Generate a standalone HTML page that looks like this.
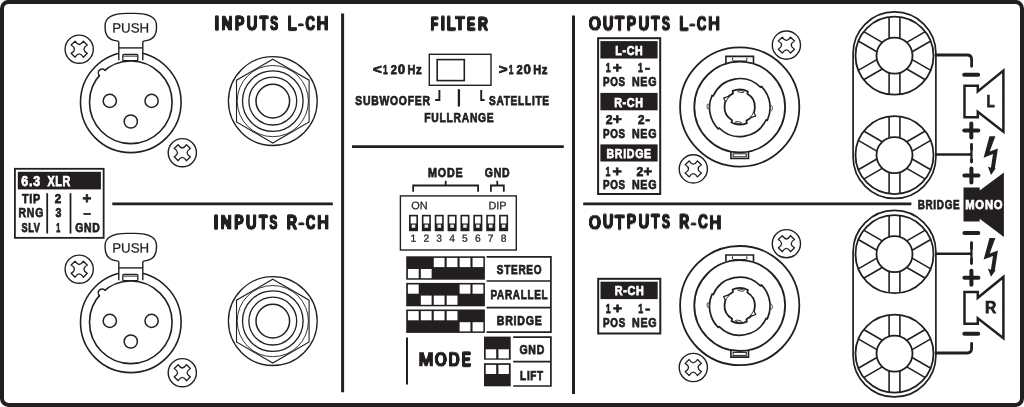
<!DOCTYPE html>
<html lang="en"><head><meta charset="utf-8"><title>Amplifier rear panel</title>
<style>html,body{margin:0;padding:0;background:#fff}svg{display:block;will-change:transform}text{font-family:"Liberation Sans",sans-serif}</style></head><body>
<svg width="1024" height="407" viewBox="0 0 1024 407">
<rect width="1024" height="407" fill="#fff"/>
<rect x="2.00" y="1.90" width="1020.00" height="403.00" fill="none" stroke="#231f20" stroke-width="4" rx="6.5"/>
<line x1="342.60" y1="13.50" x2="342.60" y2="392.20" stroke="#231f20" stroke-width="3.0" stroke-linecap="butt"/>
<line x1="112.30" y1="203.90" x2="332.80" y2="203.90" stroke="#231f20" stroke-width="2.9" stroke-linecap="butt"/>
<g transform="translate(79.20,49.20)">
<circle cx="0.00" cy="0.00" r="14.10" fill="#fff" stroke="#231f20" stroke-width="1.4"/>
<g transform="scale(0.94)">
<path d="M-8.6,-4.4 L-4.4,-8.5 Q0,-1.5 4.4,-8.5 L8.6,-4.4 Q1.5,0 8.6,4.4 L4.4,8.5 Q0,1.5 -4.4,8.5 L-8.6,4.4 Q-1.5,0 -8.6,-4.4 Z" fill="none" stroke="#231f20" stroke-width="1.4" stroke-linejoin="round" stroke-linecap="butt"/>
</g>
</g>
<g transform="translate(182.30,152.70)">
<circle cx="0.00" cy="0.00" r="14.10" fill="#fff" stroke="#231f20" stroke-width="1.4"/>
<g transform="scale(0.94)">
<path d="M-8.6,-4.4 L-4.4,-8.5 Q0,-1.5 4.4,-8.5 L8.6,-4.4 Q1.5,0 8.6,4.4 L4.4,8.5 Q0,1.5 -4.4,8.5 L-8.6,4.4 Q-1.5,0 -8.6,-4.4 Z" fill="none" stroke="#231f20" stroke-width="1.4" stroke-linejoin="round" stroke-linecap="butt"/>
</g>
</g>
<g transform="translate(130.80,102.30)">
<circle cx="0.00" cy="0.00" r="50.30" fill="none" stroke="#231f20" stroke-width="1.6"/>
<path d="M-12,-42 L-12,-60.3 Q-12,-61.2 -14,-61.4 C-21,-62.2 -25.7,-66 -25.7,-74.5 L-25.7,-76.5 C-25.7,-85 -18,-88.9 -4,-88.9 L4,-88.9 C18,-88.9 25.7,-85 25.7,-76.5 L25.7,-74.5 C25.7,-66 21,-62.2 14,-61.4 Q12,-61.2 12,-60.3 L12,-42" fill="#fff" stroke="#231f20" stroke-width="1.4" stroke-linejoin="miter" stroke-linecap="butt"/>
<line x1="-12.00" y1="-54.40" x2="12.00" y2="-54.40" stroke="#231f20" stroke-width="1.4" stroke-linecap="butt"/>
<rect x="-8.00" y="-48.00" width="15.00" height="6.40" fill="none" stroke="#231f20" stroke-width="1.3" rx="1"/>
<line x1="-7.40" y1="-46.20" x2="6.40" y2="-46.20" stroke="#231f20" stroke-width="1.0" stroke-linecap="butt"/>
<circle cx="0.00" cy="0.00" r="41.30" fill="#fff" stroke="#231f20" stroke-width="1.6"/>
<circle cx="-28.65" cy="-29.4" r="3.3" fill="#fff"/>
<path d="M-31.4,-26.7 A3.5,3.5 0 0 1 -25.9,-32.1" fill="none" stroke="#231f20" stroke-width="1.5" stroke-linejoin="miter" stroke-linecap="round"/>
<circle cx="-21.00" cy="-1.40" r="6.60" fill="none" stroke="#231f20" stroke-width="1.5"/>
<circle cx="20.80" cy="-1.40" r="6.60" fill="none" stroke="#231f20" stroke-width="1.5"/>
<circle cx="0.00" cy="19.20" r="6.60" fill="none" stroke="#231f20" stroke-width="1.5"/>
</g>
<g transform="translate(272.80,101.10)">
<circle cx="0.00" cy="0.00" r="44.40" fill="none" stroke="#231f20" stroke-width="1.3"/>
<polygon points="0.00,-41.90 36.29,-20.95 36.29,20.95 0.00,41.90 -36.29,20.95 -36.29,-20.95" fill="none" stroke="#231f20" stroke-width="1.1"/>
<circle cx="0.00" cy="0.00" r="35.60" fill="none" stroke="#231f20" stroke-width="0.9"/>
<circle cx="0.00" cy="0.00" r="30.30" fill="none" stroke="#231f20" stroke-width="1.3"/>
<circle cx="0.00" cy="0.00" r="23.90" fill="none" stroke="#231f20" stroke-width="1.3"/>
<circle cx="0.00" cy="0.00" r="16.80" fill="none" stroke="#231f20" stroke-width="1.5"/>
</g>
<g transform="translate(79.20,269.20)">
<circle cx="0.00" cy="0.00" r="14.10" fill="#fff" stroke="#231f20" stroke-width="1.4"/>
<g transform="scale(0.94)">
<path d="M-8.6,-4.4 L-4.4,-8.5 Q0,-1.5 4.4,-8.5 L8.6,-4.4 Q1.5,0 8.6,4.4 L4.4,8.5 Q0,1.5 -4.4,8.5 L-8.6,4.4 Q-1.5,0 -8.6,-4.4 Z" fill="none" stroke="#231f20" stroke-width="1.4" stroke-linejoin="round" stroke-linecap="butt"/>
</g>
</g>
<g transform="translate(182.30,372.70)">
<circle cx="0.00" cy="0.00" r="14.10" fill="#fff" stroke="#231f20" stroke-width="1.4"/>
<g transform="scale(0.94)">
<path d="M-8.6,-4.4 L-4.4,-8.5 Q0,-1.5 4.4,-8.5 L8.6,-4.4 Q1.5,0 8.6,4.4 L4.4,8.5 Q0,1.5 -4.4,8.5 L-8.6,4.4 Q-1.5,0 -8.6,-4.4 Z" fill="none" stroke="#231f20" stroke-width="1.4" stroke-linejoin="round" stroke-linecap="butt"/>
</g>
</g>
<g transform="translate(130.80,322.30)">
<circle cx="0.00" cy="0.00" r="50.30" fill="none" stroke="#231f20" stroke-width="1.6"/>
<path d="M-12,-42 L-12,-60.3 Q-12,-61.2 -14,-61.4 C-21,-62.2 -25.7,-66 -25.7,-74.5 L-25.7,-76.5 C-25.7,-85 -18,-88.9 -4,-88.9 L4,-88.9 C18,-88.9 25.7,-85 25.7,-76.5 L25.7,-74.5 C25.7,-66 21,-62.2 14,-61.4 Q12,-61.2 12,-60.3 L12,-42" fill="#fff" stroke="#231f20" stroke-width="1.4" stroke-linejoin="miter" stroke-linecap="butt"/>
<line x1="-12.00" y1="-54.40" x2="12.00" y2="-54.40" stroke="#231f20" stroke-width="1.4" stroke-linecap="butt"/>
<rect x="-8.00" y="-48.00" width="15.00" height="6.40" fill="none" stroke="#231f20" stroke-width="1.3" rx="1"/>
<line x1="-7.40" y1="-46.20" x2="6.40" y2="-46.20" stroke="#231f20" stroke-width="1.0" stroke-linecap="butt"/>
<circle cx="0.00" cy="0.00" r="41.30" fill="#fff" stroke="#231f20" stroke-width="1.6"/>
<circle cx="-28.65" cy="-29.4" r="3.3" fill="#fff"/>
<path d="M-31.4,-26.7 A3.5,3.5 0 0 1 -25.9,-32.1" fill="none" stroke="#231f20" stroke-width="1.5" stroke-linejoin="miter" stroke-linecap="round"/>
<circle cx="-21.00" cy="-1.40" r="6.60" fill="none" stroke="#231f20" stroke-width="1.5"/>
<circle cx="20.80" cy="-1.40" r="6.60" fill="none" stroke="#231f20" stroke-width="1.5"/>
<circle cx="0.00" cy="19.20" r="6.60" fill="none" stroke="#231f20" stroke-width="1.5"/>
</g>
<g transform="translate(272.80,321.10)">
<circle cx="0.00" cy="0.00" r="44.40" fill="none" stroke="#231f20" stroke-width="1.3"/>
<polygon points="0.00,-41.90 36.29,-20.95 36.29,20.95 0.00,41.90 -36.29,20.95 -36.29,-20.95" fill="none" stroke="#231f20" stroke-width="1.1"/>
<circle cx="0.00" cy="0.00" r="35.60" fill="none" stroke="#231f20" stroke-width="0.9"/>
<circle cx="0.00" cy="0.00" r="30.30" fill="none" stroke="#231f20" stroke-width="1.3"/>
<circle cx="0.00" cy="0.00" r="23.90" fill="none" stroke="#231f20" stroke-width="1.3"/>
<circle cx="0.00" cy="0.00" r="16.80" fill="none" stroke="#231f20" stroke-width="1.5"/>
</g>
<rect x="14.90" y="168.80" width="88.75" height="69.05" fill="#fff" stroke="#231f20" stroke-width="1.8"/>
<rect x="17.80" y="171.80" width="83.10" height="17.60" fill="#231f20"/>
<line x1="47.20" y1="193.20" x2="47.20" y2="233.50" stroke="#231f20" stroke-width="1.8" stroke-linecap="butt"/>
<line x1="70.50" y1="193.20" x2="70.50" y2="233.50" stroke="#231f20" stroke-width="1.8" stroke-linecap="butt"/>
<rect x="429.30" y="54.30" width="61.70" height="31.00" fill="none" stroke="#231f20" stroke-width="1.4"/>
<rect x="437.20" y="59.60" width="27.10" height="21.00" fill="none" stroke="#231f20" stroke-width="1.6"/>
<path d="M439.4,90.1 L439.4,100.0 L435.2,100.0" fill="none" stroke="#231f20" stroke-width="1.9" stroke-linejoin="miter" stroke-linecap="butt"/>
<path d="M481.2,90.1 L481.2,100.0 L484.6,100.0" fill="none" stroke="#231f20" stroke-width="1.9" stroke-linejoin="miter" stroke-linecap="butt"/>
<line x1="458.90" y1="89.20" x2="458.90" y2="106.50" stroke="#231f20" stroke-width="2.3" stroke-linecap="butt"/>
<line x1="352.00" y1="146.55" x2="563.80" y2="146.55" stroke="#231f20" stroke-width="2.8" stroke-linecap="butt"/>
<line x1="573.50" y1="15.50" x2="573.50" y2="394.00" stroke="#231f20" stroke-width="3.0" stroke-linecap="butt"/>
<path d="M413.2,191.8 L413.2,185.5 L478.1,185.5 L478.1,191.8 M445.7,185.5 L445.7,180.8" fill="none" stroke="#231f20" stroke-width="1.8" stroke-linejoin="miter" stroke-linecap="butt"/>
<path d="M490.9,191.8 L490.9,185.5 L503.8,185.5 L503.8,191.8 M497.3,185.5 L497.3,180.8" fill="none" stroke="#231f20" stroke-width="1.8" stroke-linejoin="miter" stroke-linecap="butt"/>
<rect x="400.40" y="195.90" width="115.90" height="54.10" fill="none" stroke="#231f20" stroke-width="1.4"/>
<rect x="409.80" y="215.60" width="7.40" height="14.80" fill="#fff" stroke="#231f20" stroke-width="1.6"/>
<rect x="409.80" y="223.50" width="7.40" height="6.90" fill="#231f20"/>
<rect x="411.70" y="224.60" width="3.60" height="3.20" fill="#eee"/>
<line x1="410.90" y1="229.30" x2="416.10" y2="229.30" stroke="#231f20" stroke-width="0.6" stroke-linecap="butt"/>
<rect x="422.67" y="215.60" width="7.40" height="14.80" fill="#fff" stroke="#231f20" stroke-width="1.6"/>
<rect x="422.67" y="223.50" width="7.40" height="6.90" fill="#231f20"/>
<rect x="424.57" y="224.60" width="3.60" height="3.20" fill="#eee"/>
<line x1="423.77" y1="229.30" x2="428.97" y2="229.30" stroke="#231f20" stroke-width="0.6" stroke-linecap="butt"/>
<rect x="435.54" y="215.60" width="7.40" height="14.80" fill="#fff" stroke="#231f20" stroke-width="1.6"/>
<rect x="435.54" y="223.50" width="7.40" height="6.90" fill="#231f20"/>
<rect x="437.44" y="224.60" width="3.60" height="3.20" fill="#eee"/>
<line x1="436.64" y1="229.30" x2="441.84" y2="229.30" stroke="#231f20" stroke-width="0.6" stroke-linecap="butt"/>
<rect x="448.41" y="215.60" width="7.40" height="14.80" fill="#fff" stroke="#231f20" stroke-width="1.6"/>
<rect x="448.41" y="223.50" width="7.40" height="6.90" fill="#231f20"/>
<rect x="450.31" y="224.60" width="3.60" height="3.20" fill="#eee"/>
<line x1="449.51" y1="229.30" x2="454.71" y2="229.30" stroke="#231f20" stroke-width="0.6" stroke-linecap="butt"/>
<rect x="461.28" y="215.60" width="7.40" height="14.80" fill="#fff" stroke="#231f20" stroke-width="1.6"/>
<rect x="461.28" y="223.50" width="7.40" height="6.90" fill="#231f20"/>
<rect x="463.18" y="224.60" width="3.60" height="3.20" fill="#eee"/>
<line x1="462.38" y1="229.30" x2="467.58" y2="229.30" stroke="#231f20" stroke-width="0.6" stroke-linecap="butt"/>
<rect x="474.15" y="215.60" width="7.40" height="14.80" fill="#fff" stroke="#231f20" stroke-width="1.6"/>
<rect x="474.15" y="223.50" width="7.40" height="6.90" fill="#231f20"/>
<rect x="476.05" y="224.60" width="3.60" height="3.20" fill="#eee"/>
<line x1="475.25" y1="229.30" x2="480.45" y2="229.30" stroke="#231f20" stroke-width="0.6" stroke-linecap="butt"/>
<rect x="487.02" y="215.60" width="7.40" height="14.80" fill="#fff" stroke="#231f20" stroke-width="1.6"/>
<rect x="487.02" y="223.50" width="7.40" height="6.90" fill="#231f20"/>
<rect x="488.92" y="224.60" width="3.60" height="3.20" fill="#eee"/>
<line x1="488.12" y1="229.30" x2="493.32" y2="229.30" stroke="#231f20" stroke-width="0.6" stroke-linecap="butt"/>
<rect x="499.89" y="215.60" width="7.40" height="14.80" fill="#fff" stroke="#231f20" stroke-width="1.6"/>
<rect x="499.89" y="223.50" width="7.40" height="6.90" fill="#231f20"/>
<rect x="501.79" y="224.60" width="3.60" height="3.20" fill="#eee"/>
<line x1="500.99" y1="229.30" x2="506.19" y2="229.30" stroke="#231f20" stroke-width="0.6" stroke-linecap="butt"/>
<rect x="406.20" y="256.30" width="78.70" height="23.40" fill="#231f20"/>
<rect x="407.90" y="269.00" width="10.80" height="9.20" fill="#fff"/>
<rect x="420.83" y="269.00" width="10.80" height="9.20" fill="#fff"/>
<rect x="433.76" y="257.90" width="10.80" height="9.20" fill="#fff"/>
<rect x="446.69" y="257.90" width="10.80" height="9.20" fill="#fff"/>
<rect x="459.62" y="257.90" width="10.80" height="9.20" fill="#fff"/>
<rect x="472.55" y="257.90" width="10.80" height="9.20" fill="#fff"/>
<rect x="406.20" y="282.90" width="78.70" height="23.40" fill="#231f20"/>
<rect x="407.90" y="284.50" width="10.80" height="9.20" fill="#fff"/>
<rect x="420.83" y="295.60" width="10.80" height="9.20" fill="#fff"/>
<rect x="433.76" y="295.60" width="10.80" height="9.20" fill="#fff"/>
<rect x="446.69" y="295.60" width="10.80" height="9.20" fill="#fff"/>
<rect x="459.62" y="284.50" width="10.80" height="9.20" fill="#fff"/>
<rect x="472.55" y="284.50" width="10.80" height="9.20" fill="#fff"/>
<rect x="406.20" y="309.50" width="78.70" height="23.40" fill="#231f20"/>
<rect x="407.90" y="311.10" width="10.80" height="9.20" fill="#fff"/>
<rect x="420.83" y="311.10" width="10.80" height="9.20" fill="#fff"/>
<rect x="433.76" y="311.10" width="10.80" height="9.20" fill="#fff"/>
<rect x="446.69" y="311.10" width="10.80" height="9.20" fill="#fff"/>
<rect x="459.62" y="322.20" width="10.80" height="9.20" fill="#fff"/>
<rect x="472.55" y="322.20" width="10.80" height="9.20" fill="#fff"/>
<path d="M486.6,256.9 L550.9,256.9 L550.9,332.1 L486.6,332.1 M486.6,281.0 L550.9,281.0 M486.6,307.7 L550.9,307.7" fill="none" stroke="#231f20" stroke-width="1.7" stroke-linejoin="miter" stroke-linecap="butt"/>
<line x1="407.00" y1="337.50" x2="407.00" y2="384.50" stroke="#231f20" stroke-width="2.0" stroke-linecap="butt"/>
<rect x="484.00" y="336.60" width="26.70" height="23.10" fill="#231f20"/>
<rect x="485.70" y="349.30" width="10.50" height="9.10" fill="#fff"/>
<rect x="498.40" y="349.30" width="10.50" height="9.10" fill="#fff"/>
<rect x="484.00" y="363.20" width="26.70" height="23.10" fill="#231f20"/>
<rect x="485.70" y="364.90" width="10.50" height="9.10" fill="#fff"/>
<rect x="498.40" y="364.90" width="10.50" height="9.10" fill="#fff"/>
<path d="M513.2,337.2 L550.9,337.2 L550.9,386.0 L513.2,386.0 M513.2,361.7 L550.9,361.7" fill="none" stroke="#231f20" stroke-width="1.7" stroke-linejoin="miter" stroke-linecap="butt"/>
<line x1="583.20" y1="203.90" x2="911.40" y2="203.90" stroke="#231f20" stroke-width="2.9" stroke-linecap="butt"/>
<rect x="598.10" y="38.20" width="62.10" height="155.80" fill="#fff" stroke="#231f20" stroke-width="2.0"/>
<rect x="600.40" y="41.10" width="57.20" height="17.40" fill="#231f20"/>
<rect x="600.40" y="92.90" width="57.20" height="17.40" fill="#231f20"/>
<rect x="600.40" y="144.40" width="57.20" height="17.10" fill="#231f20"/>
<rect x="598.20" y="278.80" width="62.10" height="54.70" fill="#fff" stroke="#231f20" stroke-width="2.0"/>
<rect x="600.50" y="281.70" width="57.20" height="17.40" fill="#231f20"/>
<g transform="translate(786.40,45.10)">
<circle cx="0.00" cy="0.00" r="14.10" fill="#fff" stroke="#231f20" stroke-width="1.4"/>
<g transform="scale(0.94)">
<path d="M-8.6,-4.4 L-4.4,-8.5 Q0,-1.5 4.4,-8.5 L8.6,-4.4 Q1.5,0 8.6,4.4 L4.4,8.5 Q0,1.5 -4.4,8.5 L-8.6,4.4 Q-1.5,0 -8.6,-4.4 Z" fill="none" stroke="#231f20" stroke-width="1.4" stroke-linejoin="round" stroke-linecap="butt"/>
</g>
</g>
<g transform="translate(693.30,168.90)">
<circle cx="0.00" cy="0.00" r="14.10" fill="#fff" stroke="#231f20" stroke-width="1.4"/>
<g transform="scale(0.94)">
<path d="M-8.6,-4.4 L-4.4,-8.5 Q0,-1.5 4.4,-8.5 L8.6,-4.4 Q1.5,0 8.6,4.4 L4.4,8.5 Q0,1.5 -4.4,8.5 L-8.6,4.4 Q-1.5,0 -8.6,-4.4 Z" fill="none" stroke="#231f20" stroke-width="1.4" stroke-linejoin="round" stroke-linecap="butt"/>
</g>
</g>
<g transform="translate(739.70,107.00)">
<circle cx="0.00" cy="0.00" r="59.60" fill="none" stroke="#231f20" stroke-width="1.8"/>
<path d="M-13.8,-44 L-13.8,-50.6 L13.8,-50.6 L13.8,-44" fill="#fff" stroke="#231f20" stroke-width="1.6" stroke-linejoin="miter" stroke-linecap="butt"/>
<path d="M-7,-49.3 Q-8,-47.5 -6.5,-46.0 L6.5,-46.0 Q8,-47.5 7,-49.3" fill="none" stroke="#231f20" stroke-width="1.0" stroke-linejoin="miter" stroke-linecap="butt"/>
<path d="M-8.8,44.5 L-8.8,51.5 L8.8,51.5 L8.8,44.5" fill="#fff" stroke="#231f20" stroke-width="1.6" stroke-linejoin="miter" stroke-linecap="butt"/>
<rect x="-6.60" y="46.80" width="13.20" height="3.00" fill="none" stroke="#231f20" stroke-width="1.0"/>
<circle cx="0.00" cy="0.00" r="45.40" fill="#fff" stroke="#231f20" stroke-width="1.8"/>
<g transform="translate(0.1,0.6)">
<path d="M-26.57,-11.61 A29.0,29.0 0 0 1 20.65,-20.36 L21.57,-21.28 A30.3,30.3 0 0 1 27.51,12.71 L26.33,12.16 A29.0,29.0 0 0 1 -20.61,20.40 L-21.54,21.31 A30.3,30.3 0 0 1 -27.77,-12.13 Z" fill="none" stroke="#231f20" stroke-width="1.7" stroke-linejoin="round" stroke-linecap="butt"/>
</g>
<ellipse cx="31.6" cy="1.2" rx="1.0" ry="2.6" fill="#fff" stroke="#231f20" stroke-width="0.8"/>
<ellipse cx="-31.6" cy="-0.6" rx="1.0" ry="2.6" fill="#fff" stroke="#231f20" stroke-width="0.8"/>
<path d="M-7.60,13.16 A15.2,15.2 0 0 1 -6.66,-13.66 L-7.16,-16.08 A17.6,17.6 0 0 1 8.26,-15.54 L7.60,-13.16 A15.2,15.2 0 0 1 6.66,13.66 L7.16,16.08 A17.6,17.6 0 0 1 -8.26,15.54 Z" fill="none" stroke="#231f20" stroke-width="1.8" stroke-linejoin="round" stroke-linecap="butt"/>
<path d="M-14.19,-5.45 L-16.09,-8.92 L-11.15,-10.77" fill="#fff" stroke="#231f20" stroke-width="1.2" stroke-linejoin="round" stroke-linecap="butt"/>
<path d="M14.19,5.45 L16.09,8.92 L11.15,10.77" fill="#fff" stroke="#231f20" stroke-width="1.2" stroke-linejoin="round" stroke-linecap="butt"/>
<ellipse cx="1.2" cy="-15.4" rx="3.4" ry="0.9" fill="none" stroke="#231f20" stroke-width="0.8" transform="rotate(8 1.2 -15.4)"/>
<ellipse cx="-1.2" cy="15.6" rx="3.4" ry="0.9" fill="none" stroke="#231f20" stroke-width="0.8" transform="rotate(8 -1.2 15.6)"/>
</g>
<g transform="translate(786.40,243.70)">
<circle cx="0.00" cy="0.00" r="14.10" fill="#fff" stroke="#231f20" stroke-width="1.4"/>
<g transform="scale(0.94)">
<path d="M-8.6,-4.4 L-4.4,-8.5 Q0,-1.5 4.4,-8.5 L8.6,-4.4 Q1.5,0 8.6,4.4 L4.4,8.5 Q0,1.5 -4.4,8.5 L-8.6,4.4 Q-1.5,0 -8.6,-4.4 Z" fill="none" stroke="#231f20" stroke-width="1.4" stroke-linejoin="round" stroke-linecap="butt"/>
</g>
</g>
<g transform="translate(693.30,367.50)">
<circle cx="0.00" cy="0.00" r="14.10" fill="#fff" stroke="#231f20" stroke-width="1.4"/>
<g transform="scale(0.94)">
<path d="M-8.6,-4.4 L-4.4,-8.5 Q0,-1.5 4.4,-8.5 L8.6,-4.4 Q1.5,0 8.6,4.4 L4.4,8.5 Q0,1.5 -4.4,8.5 L-8.6,4.4 Q-1.5,0 -8.6,-4.4 Z" fill="none" stroke="#231f20" stroke-width="1.4" stroke-linejoin="round" stroke-linecap="butt"/>
</g>
</g>
<g transform="translate(739.70,305.60)">
<circle cx="0.00" cy="0.00" r="59.60" fill="none" stroke="#231f20" stroke-width="1.8"/>
<path d="M-13.8,-44 L-13.8,-50.6 L13.8,-50.6 L13.8,-44" fill="#fff" stroke="#231f20" stroke-width="1.6" stroke-linejoin="miter" stroke-linecap="butt"/>
<path d="M-7,-49.3 Q-8,-47.5 -6.5,-46.0 L6.5,-46.0 Q8,-47.5 7,-49.3" fill="none" stroke="#231f20" stroke-width="1.0" stroke-linejoin="miter" stroke-linecap="butt"/>
<path d="M-8.8,44.5 L-8.8,51.5 L8.8,51.5 L8.8,44.5" fill="#fff" stroke="#231f20" stroke-width="1.6" stroke-linejoin="miter" stroke-linecap="butt"/>
<rect x="-6.60" y="46.80" width="13.20" height="3.00" fill="none" stroke="#231f20" stroke-width="1.0"/>
<circle cx="0.00" cy="0.00" r="45.40" fill="#fff" stroke="#231f20" stroke-width="1.8"/>
<g transform="translate(0.1,0.6)">
<path d="M-26.57,-11.61 A29.0,29.0 0 0 1 20.65,-20.36 L21.57,-21.28 A30.3,30.3 0 0 1 27.51,12.71 L26.33,12.16 A29.0,29.0 0 0 1 -20.61,20.40 L-21.54,21.31 A30.3,30.3 0 0 1 -27.77,-12.13 Z" fill="none" stroke="#231f20" stroke-width="1.7" stroke-linejoin="round" stroke-linecap="butt"/>
</g>
<ellipse cx="31.6" cy="1.2" rx="1.0" ry="2.6" fill="#fff" stroke="#231f20" stroke-width="0.8"/>
<ellipse cx="-31.6" cy="-0.6" rx="1.0" ry="2.6" fill="#fff" stroke="#231f20" stroke-width="0.8"/>
<path d="M-7.60,13.16 A15.2,15.2 0 0 1 -6.66,-13.66 L-7.16,-16.08 A17.6,17.6 0 0 1 8.26,-15.54 L7.60,-13.16 A15.2,15.2 0 0 1 6.66,13.66 L7.16,16.08 A17.6,17.6 0 0 1 -8.26,15.54 Z" fill="none" stroke="#231f20" stroke-width="1.8" stroke-linejoin="round" stroke-linecap="butt"/>
<path d="M-14.19,-5.45 L-16.09,-8.92 L-11.15,-10.77" fill="#fff" stroke="#231f20" stroke-width="1.2" stroke-linejoin="round" stroke-linecap="butt"/>
<path d="M14.19,5.45 L16.09,8.92 L11.15,10.77" fill="#fff" stroke="#231f20" stroke-width="1.2" stroke-linejoin="round" stroke-linecap="butt"/>
<ellipse cx="1.2" cy="-15.4" rx="3.4" ry="0.9" fill="none" stroke="#231f20" stroke-width="0.8" transform="rotate(8 1.2 -15.4)"/>
<ellipse cx="-1.2" cy="15.6" rx="3.4" ry="0.9" fill="none" stroke="#231f20" stroke-width="0.8" transform="rotate(8 -1.2 15.6)"/>
</g>
<g transform="translate(894.50,11.80)">
<rect x="-41.40" y="0.10" width="82.80" height="186.50" fill="none" stroke="#231f20" stroke-width="1.7" rx="41.4"/>
<circle cx="0.00" cy="43.90" r="39.00" fill="#fff" stroke="#231f20" stroke-width="1.8"/>
<circle cx="0.00" cy="43.90" r="18.00" fill="none" stroke="#231f20" stroke-width="1.8"/>
<g transform="translate(0,43.9) rotate(0)">
<line x1="-5.40" y1="-17.28" x2="-5.40" y2="-38.73" stroke="#231f20" stroke-width="1.6" stroke-linecap="butt"/>
<line x1="5.40" y1="-17.28" x2="5.40" y2="-38.73" stroke="#231f20" stroke-width="1.6" stroke-linecap="butt"/>
</g>
<g transform="translate(0,43.9) rotate(60)">
<line x1="-5.40" y1="-17.28" x2="-5.40" y2="-38.73" stroke="#231f20" stroke-width="1.6" stroke-linecap="butt"/>
<line x1="5.40" y1="-17.28" x2="5.40" y2="-38.73" stroke="#231f20" stroke-width="1.6" stroke-linecap="butt"/>
</g>
<g transform="translate(0,43.9) rotate(120)">
<line x1="-5.40" y1="-17.28" x2="-5.40" y2="-38.73" stroke="#231f20" stroke-width="1.6" stroke-linecap="butt"/>
<line x1="5.40" y1="-17.28" x2="5.40" y2="-38.73" stroke="#231f20" stroke-width="1.6" stroke-linecap="butt"/>
</g>
<g transform="translate(0,43.9) rotate(180)">
<line x1="-5.40" y1="-17.28" x2="-5.40" y2="-38.73" stroke="#231f20" stroke-width="1.6" stroke-linecap="butt"/>
<line x1="5.40" y1="-17.28" x2="5.40" y2="-38.73" stroke="#231f20" stroke-width="1.6" stroke-linecap="butt"/>
</g>
<g transform="translate(0,43.9) rotate(240)">
<line x1="-5.40" y1="-17.28" x2="-5.40" y2="-38.73" stroke="#231f20" stroke-width="1.6" stroke-linecap="butt"/>
<line x1="5.40" y1="-17.28" x2="5.40" y2="-38.73" stroke="#231f20" stroke-width="1.6" stroke-linecap="butt"/>
</g>
<g transform="translate(0,43.9) rotate(300)">
<line x1="-5.40" y1="-17.28" x2="-5.40" y2="-38.73" stroke="#231f20" stroke-width="1.6" stroke-linecap="butt"/>
<line x1="5.40" y1="-17.28" x2="5.40" y2="-38.73" stroke="#231f20" stroke-width="1.6" stroke-linecap="butt"/>
</g>
<circle cx="0.00" cy="143.30" r="39.00" fill="#fff" stroke="#231f20" stroke-width="1.8"/>
<circle cx="0.00" cy="143.30" r="18.00" fill="none" stroke="#231f20" stroke-width="1.8"/>
<g transform="translate(0,143.3) rotate(0)">
<line x1="-5.40" y1="-17.28" x2="-5.40" y2="-38.73" stroke="#231f20" stroke-width="1.6" stroke-linecap="butt"/>
<line x1="5.40" y1="-17.28" x2="5.40" y2="-38.73" stroke="#231f20" stroke-width="1.6" stroke-linecap="butt"/>
</g>
<g transform="translate(0,143.3) rotate(60)">
<line x1="-5.40" y1="-17.28" x2="-5.40" y2="-38.73" stroke="#231f20" stroke-width="1.6" stroke-linecap="butt"/>
<line x1="5.40" y1="-17.28" x2="5.40" y2="-38.73" stroke="#231f20" stroke-width="1.6" stroke-linecap="butt"/>
</g>
<g transform="translate(0,143.3) rotate(120)">
<line x1="-5.40" y1="-17.28" x2="-5.40" y2="-38.73" stroke="#231f20" stroke-width="1.6" stroke-linecap="butt"/>
<line x1="5.40" y1="-17.28" x2="5.40" y2="-38.73" stroke="#231f20" stroke-width="1.6" stroke-linecap="butt"/>
</g>
<g transform="translate(0,143.3) rotate(180)">
<line x1="-5.40" y1="-17.28" x2="-5.40" y2="-38.73" stroke="#231f20" stroke-width="1.6" stroke-linecap="butt"/>
<line x1="5.40" y1="-17.28" x2="5.40" y2="-38.73" stroke="#231f20" stroke-width="1.6" stroke-linecap="butt"/>
</g>
<g transform="translate(0,143.3) rotate(240)">
<line x1="-5.40" y1="-17.28" x2="-5.40" y2="-38.73" stroke="#231f20" stroke-width="1.6" stroke-linecap="butt"/>
<line x1="5.40" y1="-17.28" x2="5.40" y2="-38.73" stroke="#231f20" stroke-width="1.6" stroke-linecap="butt"/>
</g>
<g transform="translate(0,143.3) rotate(300)">
<line x1="-5.40" y1="-17.28" x2="-5.40" y2="-38.73" stroke="#231f20" stroke-width="1.6" stroke-linecap="butt"/>
<line x1="5.40" y1="-17.28" x2="5.40" y2="-38.73" stroke="#231f20" stroke-width="1.6" stroke-linecap="butt"/>
</g>
</g>
<g transform="translate(894.50,210.30)">
<rect x="-41.40" y="0.10" width="82.80" height="186.50" fill="none" stroke="#231f20" stroke-width="1.7" rx="41.4"/>
<circle cx="0.00" cy="43.90" r="39.00" fill="#fff" stroke="#231f20" stroke-width="1.8"/>
<circle cx="0.00" cy="43.90" r="18.00" fill="none" stroke="#231f20" stroke-width="1.8"/>
<g transform="translate(0,43.9) rotate(0)">
<line x1="-5.40" y1="-17.28" x2="-5.40" y2="-38.73" stroke="#231f20" stroke-width="1.6" stroke-linecap="butt"/>
<line x1="5.40" y1="-17.28" x2="5.40" y2="-38.73" stroke="#231f20" stroke-width="1.6" stroke-linecap="butt"/>
</g>
<g transform="translate(0,43.9) rotate(60)">
<line x1="-5.40" y1="-17.28" x2="-5.40" y2="-38.73" stroke="#231f20" stroke-width="1.6" stroke-linecap="butt"/>
<line x1="5.40" y1="-17.28" x2="5.40" y2="-38.73" stroke="#231f20" stroke-width="1.6" stroke-linecap="butt"/>
</g>
<g transform="translate(0,43.9) rotate(120)">
<line x1="-5.40" y1="-17.28" x2="-5.40" y2="-38.73" stroke="#231f20" stroke-width="1.6" stroke-linecap="butt"/>
<line x1="5.40" y1="-17.28" x2="5.40" y2="-38.73" stroke="#231f20" stroke-width="1.6" stroke-linecap="butt"/>
</g>
<g transform="translate(0,43.9) rotate(180)">
<line x1="-5.40" y1="-17.28" x2="-5.40" y2="-38.73" stroke="#231f20" stroke-width="1.6" stroke-linecap="butt"/>
<line x1="5.40" y1="-17.28" x2="5.40" y2="-38.73" stroke="#231f20" stroke-width="1.6" stroke-linecap="butt"/>
</g>
<g transform="translate(0,43.9) rotate(240)">
<line x1="-5.40" y1="-17.28" x2="-5.40" y2="-38.73" stroke="#231f20" stroke-width="1.6" stroke-linecap="butt"/>
<line x1="5.40" y1="-17.28" x2="5.40" y2="-38.73" stroke="#231f20" stroke-width="1.6" stroke-linecap="butt"/>
</g>
<g transform="translate(0,43.9) rotate(300)">
<line x1="-5.40" y1="-17.28" x2="-5.40" y2="-38.73" stroke="#231f20" stroke-width="1.6" stroke-linecap="butt"/>
<line x1="5.40" y1="-17.28" x2="5.40" y2="-38.73" stroke="#231f20" stroke-width="1.6" stroke-linecap="butt"/>
</g>
<circle cx="0.00" cy="143.30" r="39.00" fill="#fff" stroke="#231f20" stroke-width="1.8"/>
<circle cx="0.00" cy="143.30" r="18.00" fill="none" stroke="#231f20" stroke-width="1.8"/>
<g transform="translate(0,143.3) rotate(0)">
<line x1="-5.40" y1="-17.28" x2="-5.40" y2="-38.73" stroke="#231f20" stroke-width="1.6" stroke-linecap="butt"/>
<line x1="5.40" y1="-17.28" x2="5.40" y2="-38.73" stroke="#231f20" stroke-width="1.6" stroke-linecap="butt"/>
</g>
<g transform="translate(0,143.3) rotate(60)">
<line x1="-5.40" y1="-17.28" x2="-5.40" y2="-38.73" stroke="#231f20" stroke-width="1.6" stroke-linecap="butt"/>
<line x1="5.40" y1="-17.28" x2="5.40" y2="-38.73" stroke="#231f20" stroke-width="1.6" stroke-linecap="butt"/>
</g>
<g transform="translate(0,143.3) rotate(120)">
<line x1="-5.40" y1="-17.28" x2="-5.40" y2="-38.73" stroke="#231f20" stroke-width="1.6" stroke-linecap="butt"/>
<line x1="5.40" y1="-17.28" x2="5.40" y2="-38.73" stroke="#231f20" stroke-width="1.6" stroke-linecap="butt"/>
</g>
<g transform="translate(0,143.3) rotate(180)">
<line x1="-5.40" y1="-17.28" x2="-5.40" y2="-38.73" stroke="#231f20" stroke-width="1.6" stroke-linecap="butt"/>
<line x1="5.40" y1="-17.28" x2="5.40" y2="-38.73" stroke="#231f20" stroke-width="1.6" stroke-linecap="butt"/>
</g>
<g transform="translate(0,143.3) rotate(240)">
<line x1="-5.40" y1="-17.28" x2="-5.40" y2="-38.73" stroke="#231f20" stroke-width="1.6" stroke-linecap="butt"/>
<line x1="5.40" y1="-17.28" x2="5.40" y2="-38.73" stroke="#231f20" stroke-width="1.6" stroke-linecap="butt"/>
</g>
<g transform="translate(0,143.3) rotate(300)">
<line x1="-5.40" y1="-17.28" x2="-5.40" y2="-38.73" stroke="#231f20" stroke-width="1.6" stroke-linecap="butt"/>
<line x1="5.40" y1="-17.28" x2="5.40" y2="-38.73" stroke="#231f20" stroke-width="1.6" stroke-linecap="butt"/>
</g>
</g>
<path d="M936,55.0 L967.2,55.0 Q971.6,55.0 971.6,59.4 L971.6,66.3" fill="none" stroke="#231f20" stroke-width="2.8" stroke-linejoin="miter" stroke-linecap="round"/>
<path d="M936,353.0 L967.2,353.0 Q971.6,353.0 971.6,348.6 L971.6,343.5" fill="none" stroke="#231f20" stroke-width="2.8" stroke-linejoin="miter" stroke-linecap="round"/>
<path d="M936,154.4 L971.0,154.4" fill="none" stroke="#231f20" stroke-width="2.5" stroke-linejoin="miter" stroke-linecap="butt"/>
<path d="M967.6,154.4 Q971.5,154.4 971.5,150.20000000000002 L971.5,158.6 Q971.5,154.4 967.6,154.4 Z" fill="#231f20" stroke="#231f20" stroke-width="0.6" stroke-linejoin="miter" stroke-linecap="butt"/>
<line x1="971.50" y1="144.40" x2="971.50" y2="149.20" stroke="#231f20" stroke-width="2.9" stroke-linecap="round"/>
<line x1="971.50" y1="159.60" x2="971.50" y2="162.00" stroke="#231f20" stroke-width="2.9" stroke-linecap="round"/>
<line x1="971.50" y1="147.90" x2="971.50" y2="160.90" stroke="#231f20" stroke-width="2.2" stroke-linecap="butt"/>
<path d="M936,253.7 L971.0,253.7" fill="none" stroke="#231f20" stroke-width="2.5" stroke-linejoin="miter" stroke-linecap="butt"/>
<path d="M967.6,253.7 Q971.5,253.7 971.5,249.5 L971.5,257.9 Q971.5,253.7 967.6,253.7 Z" fill="#231f20" stroke="#231f20" stroke-width="0.6" stroke-linejoin="miter" stroke-linecap="butt"/>
<line x1="971.50" y1="242.80" x2="971.50" y2="248.50" stroke="#231f20" stroke-width="2.9" stroke-linecap="round"/>
<line x1="971.50" y1="258.90" x2="971.50" y2="263.60" stroke="#231f20" stroke-width="2.9" stroke-linecap="round"/>
<line x1="971.50" y1="247.20" x2="971.50" y2="260.20" stroke="#231f20" stroke-width="2.2" stroke-linecap="butt"/>
<line x1="964.20" y1="74.80" x2="978.20" y2="74.80" stroke="#231f20" stroke-width="3.9" stroke-linecap="round"/>
<line x1="964.30" y1="130.40" x2="978.30" y2="130.40" stroke="#231f20" stroke-width="4.0" stroke-linecap="round"/>
<line x1="971.30" y1="123.40" x2="971.30" y2="137.40" stroke="#231f20" stroke-width="4.0" stroke-linecap="round"/>
<line x1="964.40" y1="175.60" x2="978.40" y2="175.60" stroke="#231f20" stroke-width="4.0" stroke-linecap="round"/>
<line x1="971.40" y1="168.60" x2="971.40" y2="182.60" stroke="#231f20" stroke-width="4.0" stroke-linecap="round"/>
<line x1="964.40" y1="233.00" x2="978.40" y2="233.00" stroke="#231f20" stroke-width="3.9" stroke-linecap="round"/>
<line x1="964.40" y1="277.80" x2="978.40" y2="277.80" stroke="#231f20" stroke-width="4.0" stroke-linecap="round"/>
<line x1="971.40" y1="270.80" x2="971.40" y2="284.80" stroke="#231f20" stroke-width="4.0" stroke-linecap="round"/>
<line x1="964.30" y1="333.80" x2="978.30" y2="333.80" stroke="#231f20" stroke-width="3.9" stroke-linecap="round"/>
<path d="M977.8,85.70 L964.5,85.70 L964.5,117.30 L977.8,117.30 L977.8,111.80 L1003.4,131.80 L1003.4,70.60 L977.8,91.40 Z" fill="#fff" stroke="#231f20" stroke-width="2.5" stroke-linejoin="miter" stroke-linecap="butt"/>
<path d="M977.8,292.10 L964.5,292.10 L964.5,323.70 L977.8,323.70 L977.8,318.20 L1003.4,338.20 L1003.4,277.00 L977.8,297.80 Z" fill="#fff" stroke="#231f20" stroke-width="2.5" stroke-linejoin="miter" stroke-linecap="butt"/>
<polygon points="989.50,136.20 995.40,136.20 989.70,151.60 997.90,148.50 994.90,168.00 995.60,168.40 991.00,174.90 987.90,166.60 990.90,167.80 993.00,154.00 983.60,157.70" fill="#231f20"/>
<polygon points="989.50,238.10 995.40,238.10 989.70,253.50 997.90,250.40 994.90,269.90 995.60,270.30 991.00,276.80 987.90,268.50 990.90,269.70 993.00,255.90 983.60,259.60" fill="#231f20"/>
<path d="M963.5,187.6 L979.7,187.6 L979.7,190.4 L1003.9,172.4 L1003.9,237.0 L979.7,218.8 L979.7,221.6 L963.5,221.6 Z" fill="#231f20"/>
<defs><filter id="h" x="0" y="0" width="1024" height="407" filterUnits="userSpaceOnUse" color-interpolation-filters="sRGB"><feGaussianBlur stdDeviation="1 0"/><feComponentTransfer result="t"><feFuncA type="linear" slope="4" intercept="-1.12"/></feComponentTransfer><feMerge><feMergeNode in="t"/><feMergeNode in="SourceGraphic"/></feMerge></filter></defs>
<g transform="matrix(1 0.0005 0 1 0 0)">
<g font-weight="normal" stroke="#231f20" stroke-width="0.25"><text x="130.70" y="32.53" font-size="13.30" fill="#231f20" text-anchor="middle">PUSH</text>
<text x="130.70" y="252.53" font-size="13.30" fill="#231f20" text-anchor="middle">PUSH</text>
<text x="411.20" y="209.09" font-size="10.90" fill="#231f20">ON</text>
<text x="488.40" y="209.06" font-size="10.90" fill="#231f20">DIP</text>
<text x="413.50" y="241.59" font-size="10.30" fill="#231f20" text-anchor="middle">1</text>
<text x="426.37" y="241.59" font-size="10.30" fill="#231f20" text-anchor="middle">2</text>
<text x="439.24" y="241.58" font-size="10.30" fill="#231f20" text-anchor="middle">3</text>
<text x="452.11" y="241.57" font-size="10.30" fill="#231f20" text-anchor="middle">4</text>
<text x="464.98" y="241.57" font-size="10.30" fill="#231f20" text-anchor="middle">5</text>
<text x="477.85" y="241.56" font-size="10.30" fill="#231f20" text-anchor="middle">6</text>
<text x="490.72" y="241.55" font-size="10.30" fill="#231f20" text-anchor="middle">7</text>
<text x="503.59" y="241.55" font-size="10.30" fill="#231f20" text-anchor="middle">8</text></g>
<g font-weight="bold" stroke-linejoin="miter"><text x="21.28" y="185.81" font-size="13.88" fill="#fff" stroke="#fff" stroke-width="0.75" letter-spacing="0.9" textLength="19.74" lengthAdjust="spacingAndGlyphs">6.3</text>
<text x="47.40" y="185.80" font-size="13.88" fill="#fff" stroke="#fff" stroke-width="0.75" letter-spacing="0.9" textLength="23.53" lengthAdjust="spacingAndGlyphs">XLR</text>
<text x="22.01" y="202.61" font-size="12.28" fill="#231f20" stroke="#231f20" stroke-width="0.75" letter-spacing="0.9" textLength="18.91" lengthAdjust="spacingAndGlyphs">TIP</text>
<text x="54.85" y="202.60" font-size="12.28" fill="#231f20" stroke="#231f20" stroke-width="0.75" textLength="6.46" lengthAdjust="spacingAndGlyphs">2</text>
<text fill="#231f20"><tspan x="82.55" y="203.18" font-size="14.75" stroke="#231f20" stroke-width="0.75" textLength="8.88" lengthAdjust="spacingAndGlyphs">+</tspan></text>
<text x="18.62" y="217.17" font-size="12.28" fill="#231f20" stroke="#231f20" stroke-width="0.75" letter-spacing="0.9" textLength="25.37" lengthAdjust="spacingAndGlyphs">RNG</text>
<text x="55.38" y="217.15" font-size="12.28" fill="#231f20" stroke="#231f20" stroke-width="0.75" textLength="5.88" lengthAdjust="spacingAndGlyphs">3</text>
<text x="83.40" y="217.13" font-size="12.28" fill="#231f20" stroke="#231f20" stroke-width="0.75" textLength="7.20" lengthAdjust="spacingAndGlyphs">–</text>
<text x="21.42" y="231.71" font-size="12.28" fill="#231f20" stroke="#231f20" stroke-width="0.75" letter-spacing="0.9" textLength="19.12" lengthAdjust="spacingAndGlyphs">SLV</text>
<text x="56.37" y="231.70" font-size="12.28" fill="#231f20" stroke="#231f20" stroke-width="0.75" textLength="4.01" lengthAdjust="spacingAndGlyphs">1</text>
<text x="75.19" y="231.69" font-size="12.28" fill="#231f20" stroke="#231f20" stroke-width="0.75" letter-spacing="0.9" textLength="25.39" lengthAdjust="spacingAndGlyphs">GND</text>
<text fill="#231f20"><tspan x="373.09" y="73.54" font-size="13.30" stroke="#231f20" stroke-width="0.75" textLength="8.85" lengthAdjust="spacingAndGlyphs">&lt;</tspan><tspan x="382.91" y="73.53" font-size="13.30" stroke="#231f20" stroke-width="0.75" textLength="4.69" lengthAdjust="spacingAndGlyphs">1</tspan><tspan x="390.73" y="73.53" font-size="13.30" stroke="#231f20" stroke-width="0.75" textLength="6.20" lengthAdjust="spacingAndGlyphs">2</tspan><tspan x="397.75" y="73.53" font-size="13.30" stroke="#231f20" stroke-width="0.75" textLength="7.42" lengthAdjust="spacingAndGlyphs">0</tspan><tspan x="407.57" y="73.52" font-size="13.30" stroke="#231f20" stroke-width="0.75" textLength="7.96" lengthAdjust="spacingAndGlyphs">H</tspan><tspan x="416.06" y="73.52" font-size="13.30" stroke="#231f20" stroke-width="0.75" textLength="5.73" lengthAdjust="spacingAndGlyphs">z</tspan></text>
<text fill="#231f20"><tspan x="498.89" y="73.48" font-size="13.30" stroke="#231f20" stroke-width="0.75" textLength="8.85" lengthAdjust="spacingAndGlyphs">&gt;</tspan><tspan x="508.71" y="73.47" font-size="13.30" stroke="#231f20" stroke-width="0.75" textLength="4.69" lengthAdjust="spacingAndGlyphs">1</tspan><tspan x="516.53" y="73.47" font-size="13.30" stroke="#231f20" stroke-width="0.75" textLength="6.20" lengthAdjust="spacingAndGlyphs">2</tspan><tspan x="523.55" y="73.46" font-size="13.30" stroke="#231f20" stroke-width="0.75" textLength="7.42" lengthAdjust="spacingAndGlyphs">0</tspan><tspan x="533.37" y="73.46" font-size="13.30" stroke="#231f20" stroke-width="0.75" textLength="7.96" lengthAdjust="spacingAndGlyphs">H</tspan><tspan x="541.86" y="73.45" font-size="13.30" stroke="#231f20" stroke-width="0.75" textLength="5.73" lengthAdjust="spacingAndGlyphs">z</tspan></text>
<text x="355.31" y="104.55" font-size="12.72" fill="#231f20" stroke="#231f20" stroke-width="0.75" letter-spacing="0.9" textLength="75.34" lengthAdjust="spacingAndGlyphs">SUBWOOFER</text>
<text x="488.91" y="104.48" font-size="12.72" fill="#231f20" stroke="#231f20" stroke-width="0.75" letter-spacing="0.9" textLength="60.90" lengthAdjust="spacingAndGlyphs">SATELLITE</text>
<text x="424.31" y="121.91" font-size="12.86" fill="#231f20" stroke="#231f20" stroke-width="0.75" letter-spacing="0.9" textLength="70.11" lengthAdjust="spacingAndGlyphs">FULLRANGE</text>
<text x="428.10" y="177.11" font-size="12.72" fill="#231f20" stroke="#231f20" stroke-width="0.75" letter-spacing="0.9" textLength="35.26" lengthAdjust="spacingAndGlyphs">MODE</text>
<text x="484.78" y="177.08" font-size="12.72" fill="#231f20" stroke="#231f20" stroke-width="0.75" letter-spacing="0.9" textLength="25.49" lengthAdjust="spacingAndGlyphs">GND</text>
<text x="496.81" y="273.98" font-size="12.72" fill="#231f20" stroke="#231f20" stroke-width="0.75" letter-spacing="0.9" textLength="45.43" lengthAdjust="spacingAndGlyphs">STEREO</text>
<text x="490.53" y="299.18" font-size="12.72" fill="#231f20" stroke="#231f20" stroke-width="0.75" letter-spacing="0.9" textLength="57.87" lengthAdjust="spacingAndGlyphs">PARALLEL</text>
<text x="496.80" y="324.58" font-size="12.72" fill="#231f20" stroke="#231f20" stroke-width="0.75" letter-spacing="0.9" textLength="45.65" lengthAdjust="spacingAndGlyphs">BRIDGE</text>
<text x="519.38" y="353.47" font-size="12.86" fill="#231f20" stroke="#231f20" stroke-width="0.75" letter-spacing="0.9" textLength="25.60" lengthAdjust="spacingAndGlyphs">GND</text>
<text x="520.12" y="379.26" font-size="12.86" fill="#231f20" stroke="#231f20" stroke-width="0.75" letter-spacing="0.9" textLength="23.79" lengthAdjust="spacingAndGlyphs">LIFT</text>
<text x="615.19" y="54.42" font-size="13.44" fill="#fff" stroke="#fff" stroke-width="0.75" letter-spacing="0.9" textLength="28.25" lengthAdjust="spacingAndGlyphs">L-CH</text>
<text fill="#231f20"><tspan x="605.71" y="71.82" font-size="12.72" stroke="#231f20" stroke-width="0.75" textLength="4.88" lengthAdjust="spacingAndGlyphs">1</tspan><tspan x="612.85" y="72.32" font-size="14.46" stroke="#231f20" stroke-width="0.75" textLength="9.08" lengthAdjust="spacingAndGlyphs">+</tspan></text>
<text fill="#231f20"><tspan x="638.11" y="71.81" font-size="12.72" stroke="#231f20" stroke-width="0.75" textLength="4.88" lengthAdjust="spacingAndGlyphs">1</tspan><tspan x="645.07" y="71.80" font-size="12.43" stroke="#231f20" stroke-width="0.75" textLength="4.98" lengthAdjust="spacingAndGlyphs">-</tspan></text>
<text x="602.94" y="86.02" font-size="12.57" fill="#231f20" stroke="#231f20" stroke-width="0.75" letter-spacing="0.9" textLength="22.86" lengthAdjust="spacingAndGlyphs">POS</text>
<text x="631.90" y="86.01" font-size="12.57" fill="#231f20" stroke="#231f20" stroke-width="0.75" letter-spacing="0.9" textLength="25.40" lengthAdjust="spacingAndGlyphs">NEG</text>
<text x="614.18" y="106.22" font-size="13.44" fill="#fff" stroke="#fff" stroke-width="0.75" letter-spacing="0.9" textLength="29.55" lengthAdjust="spacingAndGlyphs">R-CH</text>
<text fill="#231f20"><tspan x="605.84" y="123.32" font-size="12.72" stroke="#231f20" stroke-width="0.75" textLength="6.79" lengthAdjust="spacingAndGlyphs">2</tspan><tspan x="612.85" y="123.82" font-size="14.46" stroke="#231f20" stroke-width="0.75" textLength="9.08" lengthAdjust="spacingAndGlyphs">+</tspan></text>
<text fill="#231f20"><tspan x="638.04" y="123.31" font-size="12.72" stroke="#231f20" stroke-width="0.75" textLength="6.48" lengthAdjust="spacingAndGlyphs">2</tspan><tspan x="645.27" y="123.30" font-size="12.43" stroke="#231f20" stroke-width="0.75" textLength="4.77" lengthAdjust="spacingAndGlyphs">-</tspan></text>
<text x="602.94" y="137.62" font-size="12.57" fill="#231f20" stroke="#231f20" stroke-width="0.75" letter-spacing="0.9" textLength="22.86" lengthAdjust="spacingAndGlyphs">POS</text>
<text x="631.90" y="137.61" font-size="12.57" fill="#231f20" stroke="#231f20" stroke-width="0.75" letter-spacing="0.9" textLength="25.40" lengthAdjust="spacingAndGlyphs">NEG</text>
<text x="606.49" y="157.22" font-size="13.44" fill="#fff" stroke="#fff" stroke-width="0.75" letter-spacing="0.9" textLength="45.34" lengthAdjust="spacingAndGlyphs">BRIDGE</text>
<text fill="#231f20"><tspan x="605.41" y="175.42" font-size="12.72" stroke="#231f20" stroke-width="0.75" textLength="4.88" lengthAdjust="spacingAndGlyphs">1</tspan><tspan x="612.64" y="175.92" font-size="14.46" stroke="#231f20" stroke-width="0.75" textLength="9.29" lengthAdjust="spacingAndGlyphs">+</tspan></text>
<text fill="#231f20"><tspan x="636.44" y="175.41" font-size="12.72" stroke="#231f20" stroke-width="0.75" textLength="6.79" lengthAdjust="spacingAndGlyphs">2</tspan><tspan x="643.56" y="175.90" font-size="14.46" stroke="#231f20" stroke-width="0.75" textLength="8.65" lengthAdjust="spacingAndGlyphs">+</tspan></text>
<text x="602.94" y="189.12" font-size="12.57" fill="#231f20" stroke="#231f20" stroke-width="0.75" letter-spacing="0.9" textLength="22.86" lengthAdjust="spacingAndGlyphs">POS</text>
<text x="631.90" y="189.11" font-size="12.57" fill="#231f20" stroke="#231f20" stroke-width="0.75" letter-spacing="0.9" textLength="25.40" lengthAdjust="spacingAndGlyphs">NEG</text>
<text x="614.78" y="295.02" font-size="13.44" fill="#fff" stroke="#fff" stroke-width="0.75" letter-spacing="0.9" textLength="29.87" lengthAdjust="spacingAndGlyphs">R-CH</text>
<text fill="#231f20"><tspan x="605.81" y="312.42" font-size="12.72" stroke="#231f20" stroke-width="0.75" textLength="4.88" lengthAdjust="spacingAndGlyphs">1</tspan><tspan x="612.95" y="312.92" font-size="14.46" stroke="#231f20" stroke-width="0.75" textLength="9.08" lengthAdjust="spacingAndGlyphs">+</tspan></text>
<text fill="#231f20"><tspan x="638.21" y="312.41" font-size="12.72" stroke="#231f20" stroke-width="0.75" textLength="4.88" lengthAdjust="spacingAndGlyphs">1</tspan><tspan x="645.17" y="312.40" font-size="12.43" stroke="#231f20" stroke-width="0.75" textLength="4.98" lengthAdjust="spacingAndGlyphs">-</tspan></text>
<text x="603.04" y="326.62" font-size="12.57" fill="#231f20" stroke="#231f20" stroke-width="0.75" letter-spacing="0.9" textLength="22.86" lengthAdjust="spacingAndGlyphs">POS</text>
<text x="632.00" y="326.61" font-size="12.57" fill="#231f20" stroke="#231f20" stroke-width="0.75" letter-spacing="0.9" textLength="25.40" lengthAdjust="spacingAndGlyphs">NEG</text>
<text x="986.60" y="106.23" font-size="17.08" fill="#231f20" stroke="#231f20" stroke-width="0.75" textLength="8.22" lengthAdjust="spacingAndGlyphs">L</text>
<text x="985.00" y="312.63" font-size="17.08" fill="#231f20" stroke="#231f20" stroke-width="0.75" textLength="11.28" lengthAdjust="spacingAndGlyphs">R</text>
<text x="917.64" y="208.37" font-size="12.43" fill="#231f20" stroke="#231f20" stroke-width="0.75" letter-spacing="0.9" textLength="42.77" lengthAdjust="spacingAndGlyphs">BRIDGE</text>
<text x="965.19" y="208.34" font-size="12.43" fill="#fff" stroke="#fff" stroke-width="0.75" letter-spacing="0.9" textLength="38.16" lengthAdjust="spacingAndGlyphs">MONO</text></g>
<g font-weight="bold" stroke-linejoin="miter" filter="url(#h)"><text fill="#231f20"><tspan x="214.57" y="30.02" font-size="19.56" stroke="#231f20" stroke-width="0.90" textLength="4.61" lengthAdjust="spacingAndGlyphs">I</tspan><tspan x="221.21" y="30.14" font-size="19.90" stroke="#231f20" stroke-width="0.67" textLength="11.39" lengthAdjust="spacingAndGlyphs">N</tspan><tspan x="234.97" y="29.96" font-size="19.42" stroke="#231f20" stroke-width="1.00" textLength="9.34" lengthAdjust="spacingAndGlyphs">P</tspan><tspan x="246.76" y="30.00" font-size="19.54" stroke="#231f20" stroke-width="0.92" textLength="10.59" lengthAdjust="spacingAndGlyphs">U</tspan><tspan x="259.70" y="29.95" font-size="19.42" stroke="#231f20" stroke-width="1.00" textLength="8.39" lengthAdjust="spacingAndGlyphs">T</tspan><tspan x="270.26" y="29.94" font-size="19.42" stroke="#231f20" stroke-width="1.00" textLength="7.89" lengthAdjust="spacingAndGlyphs">S</tspan> <tspan x="287.49" y="30.04" font-size="19.71" stroke="#231f20" stroke-width="0.80" textLength="9.27" lengthAdjust="spacingAndGlyphs">L</tspan><tspan x="297.53" y="30.43" font-size="20.87" textLength="6.56" lengthAdjust="spacingAndGlyphs">-</tspan><tspan x="305.60" y="29.93" font-size="19.42" stroke="#231f20" stroke-width="1.00" textLength="9.32" lengthAdjust="spacingAndGlyphs">C</tspan><tspan x="316.48" y="30.18" font-size="20.17" stroke="#231f20" stroke-width="0.48" textLength="12.04" lengthAdjust="spacingAndGlyphs">H</tspan></text>
<text fill="#231f20"><tspan x="213.82" y="228.72" font-size="19.56" stroke="#231f20" stroke-width="0.90" textLength="4.61" lengthAdjust="spacingAndGlyphs">I</tspan><tspan x="220.46" y="228.84" font-size="19.90" stroke="#231f20" stroke-width="0.67" textLength="11.39" lengthAdjust="spacingAndGlyphs">N</tspan><tspan x="234.22" y="228.66" font-size="19.42" stroke="#231f20" stroke-width="1.00" textLength="9.34" lengthAdjust="spacingAndGlyphs">P</tspan><tspan x="246.01" y="228.70" font-size="19.54" stroke="#231f20" stroke-width="0.92" textLength="10.59" lengthAdjust="spacingAndGlyphs">U</tspan><tspan x="258.95" y="228.65" font-size="19.42" stroke="#231f20" stroke-width="1.00" textLength="8.39" lengthAdjust="spacingAndGlyphs">T</tspan><tspan x="269.51" y="228.65" font-size="19.42" stroke="#231f20" stroke-width="1.00" textLength="7.84" lengthAdjust="spacingAndGlyphs">S</tspan> <tspan x="286.82" y="228.64" font-size="19.42" stroke="#231f20" stroke-width="1.00" textLength="10.21" lengthAdjust="spacingAndGlyphs">R</tspan><tspan x="297.92" y="229.13" font-size="20.87" textLength="6.69" lengthAdjust="spacingAndGlyphs">-</tspan><tspan x="306.11" y="228.63" font-size="19.42" stroke="#231f20" stroke-width="1.00" textLength="9.22" lengthAdjust="spacingAndGlyphs">C</tspan><tspan x="317.08" y="228.88" font-size="20.17" stroke="#231f20" stroke-width="0.48" textLength="12.04" lengthAdjust="spacingAndGlyphs">H</tspan></text>
<text fill="#231f20"><tspan x="430.57" y="29.91" font-size="19.27" stroke="#231f20" stroke-width="1.00" textLength="7.86" lengthAdjust="spacingAndGlyphs">F</tspan><tspan x="440.73" y="29.96" font-size="19.42" stroke="#231f20" stroke-width="0.90" textLength="4.23" lengthAdjust="spacingAndGlyphs">I</tspan><tspan x="446.81" y="29.91" font-size="19.30" stroke="#231f20" stroke-width="0.98" textLength="8.77" lengthAdjust="spacingAndGlyphs">L</tspan><tspan x="455.31" y="30.04" font-size="19.68" stroke="#231f20" stroke-width="0.72" textLength="9.47" lengthAdjust="spacingAndGlyphs">T</tspan><tspan x="467.04" y="29.90" font-size="19.27" stroke="#231f20" stroke-width="1.00" textLength="8.32" lengthAdjust="spacingAndGlyphs">E</tspan><tspan x="478.04" y="29.89" font-size="19.27" stroke="#231f20" stroke-width="1.00" textLength="9.89" lengthAdjust="spacingAndGlyphs">R</tspan></text>
<text fill="#231f20"><tspan x="418.48" y="366.37" font-size="21.02" stroke="#231f20" stroke-width="0.10" textLength="15.15" lengthAdjust="spacingAndGlyphs">M</tspan><tspan x="434.79" y="366.12" font-size="20.31" stroke="#231f20" stroke-width="0.59" textLength="12.14" lengthAdjust="spacingAndGlyphs">O</tspan><tspan x="448.49" y="366.11" font-size="20.29" stroke="#231f20" stroke-width="0.60" textLength="11.23" lengthAdjust="spacingAndGlyphs">D</tspan><tspan x="461.83" y="365.90" font-size="19.71" stroke="#231f20" stroke-width="1.00" textLength="9.16" lengthAdjust="spacingAndGlyphs">E</tspan></text>
<text fill="#231f20"><tspan x="588.63" y="29.94" font-size="19.88" stroke="#231f20" stroke-width="0.68" textLength="12.21" lengthAdjust="spacingAndGlyphs">O</tspan><tspan x="602.92" y="29.78" font-size="19.42" stroke="#231f20" stroke-width="1.00" textLength="10.18" lengthAdjust="spacingAndGlyphs">U</tspan><tspan x="615.04" y="29.87" font-size="19.71" stroke="#231f20" stroke-width="0.80" textLength="9.27" lengthAdjust="spacingAndGlyphs">T</tspan><tspan x="626.83" y="29.77" font-size="19.42" stroke="#231f20" stroke-width="1.00" textLength="9.29" lengthAdjust="spacingAndGlyphs">P</tspan><tspan x="638.50" y="29.81" font-size="19.57" stroke="#231f20" stroke-width="0.89" textLength="10.66" lengthAdjust="spacingAndGlyphs">U</tspan><tspan x="651.25" y="29.75" font-size="19.42" stroke="#231f20" stroke-width="1.00" textLength="8.35" lengthAdjust="spacingAndGlyphs">T</tspan><tspan x="662.06" y="29.75" font-size="19.42" stroke="#231f20" stroke-width="1.00" textLength="7.79" lengthAdjust="spacingAndGlyphs">S</tspan> <tspan x="679.13" y="29.81" font-size="19.62" stroke="#231f20" stroke-width="0.86" textLength="9.10" lengthAdjust="spacingAndGlyphs">L</tspan><tspan x="689.03" y="30.24" font-size="20.87" textLength="6.56" lengthAdjust="spacingAndGlyphs">-</tspan><tspan x="697.11" y="29.73" font-size="19.42" stroke="#231f20" stroke-width="1.00" textLength="9.22" lengthAdjust="spacingAndGlyphs">C</tspan><tspan x="707.88" y="29.98" font-size="20.17" stroke="#231f20" stroke-width="0.48" textLength="12.04" lengthAdjust="spacingAndGlyphs">H</tspan></text>
<text fill="#231f20"><tspan x="588.63" y="228.59" font-size="19.88" stroke="#231f20" stroke-width="0.68" textLength="12.21" lengthAdjust="spacingAndGlyphs">O</tspan><tspan x="602.92" y="228.43" font-size="19.42" stroke="#231f20" stroke-width="1.00" textLength="10.18" lengthAdjust="spacingAndGlyphs">U</tspan><tspan x="615.04" y="228.52" font-size="19.71" stroke="#231f20" stroke-width="0.80" textLength="9.27" lengthAdjust="spacingAndGlyphs">T</tspan><tspan x="626.83" y="228.42" font-size="19.42" stroke="#231f20" stroke-width="1.00" textLength="9.29" lengthAdjust="spacingAndGlyphs">P</tspan><tspan x="638.50" y="228.46" font-size="19.57" stroke="#231f20" stroke-width="0.89" textLength="10.66" lengthAdjust="spacingAndGlyphs">U</tspan><tspan x="651.25" y="228.40" font-size="19.42" stroke="#231f20" stroke-width="1.00" textLength="8.35" lengthAdjust="spacingAndGlyphs">T</tspan><tspan x="662.06" y="228.40" font-size="19.42" stroke="#231f20" stroke-width="1.00" textLength="7.79" lengthAdjust="spacingAndGlyphs">S</tspan> <tspan x="679.24" y="228.39" font-size="19.42" stroke="#231f20" stroke-width="1.00" textLength="9.89" lengthAdjust="spacingAndGlyphs">R</tspan><tspan x="690.23" y="228.88" font-size="20.87" textLength="6.56" lengthAdjust="spacingAndGlyphs">-</tspan><tspan x="698.20" y="228.38" font-size="19.42" stroke="#231f20" stroke-width="1.00" textLength="9.42" lengthAdjust="spacingAndGlyphs">C</tspan><tspan x="709.18" y="228.63" font-size="20.17" stroke="#231f20" stroke-width="0.48" textLength="12.04" lengthAdjust="spacingAndGlyphs">H</tspan></text></g>
</g>
</svg></body></html>
